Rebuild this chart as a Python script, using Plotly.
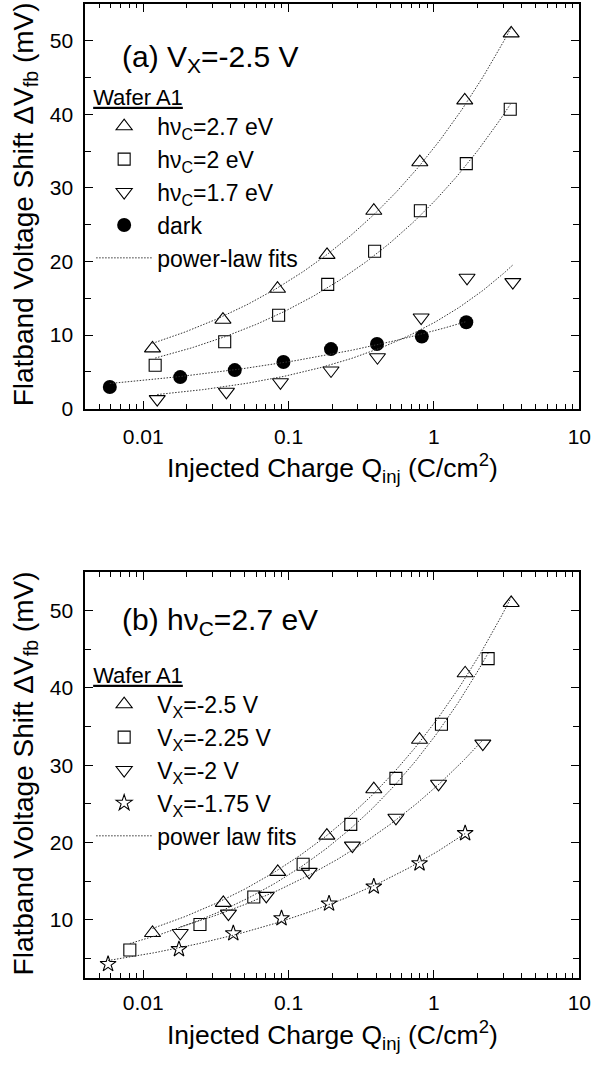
import numpy as np
import plotly.graph_objects as go

# ---------------- Panel (a): V_X = -2.5 V, wafer A1 ----------------
q_a_27 = [0.0116, 0.0354, 0.084, 0.184, 0.386, 0.80, 1.63, 3.40]
dv_a_27 = [8.2, 12.1, 16.3, 20.9, 26.9, 33.5, 41.9, 51.0]
q_a_20 = [0.0121, 0.0364, 0.0855, 0.186, 0.391, 0.807, 1.67, 3.35]
dv_a_20 = [5.9, 9.1, 12.7, 16.9, 21.4, 26.9, 33.3, 40.7]
q_a_17 = [0.0125, 0.0374, 0.088, 0.196, 0.409, 0.817, 1.69, 3.49]
dv_a_17 = [1.3, 2.3, 3.6, 5.2, 7.0, 12.4, 17.8, 17.2]
q_a_dark = [0.0059, 0.018, 0.0427, 0.0923, 0.196, 0.406, 0.826, 1.67]
dv_a_dark = [2.95, 4.3, 5.25, 6.35, 8.1, 8.8, 9.8, 11.75]

# ---------------- Panel (b): hv_C = 2.7 eV, wafer A1 ----------------
q_b_250 = [0.0116, 0.0356, 0.0843, 0.1835, 0.386, 0.796, 1.64, 3.40]
dv_b_250 = [8.3, 12.2, 16.2, 20.9, 26.9, 33.3, 41.9, 51.0]
q_b_225 = [0.0081, 0.0246, 0.0577, 0.126, 0.268, 0.548, 1.127, 2.36]
dv_b_225 = [6.1, 9.4, 12.95, 17.2, 22.35, 28.3, 35.3, 43.8]
q_b_200 = [0.018, 0.0386, 0.0703, 0.1387, 0.275, 0.548, 1.076, 2.17]
dv_b_200 = [8.3, 10.8, 13.1, 16.2, 19.6, 23.2, 27.6, 32.8]
q_b_175 = [0.00574, 0.01764, 0.0417, 0.0895, 0.19, 0.386, 0.796, 1.64]
dv_b_175 = [4.27, 6.2, 8.25, 10.2, 12.1, 14.3, 17.3, 21.2]

x_ticks = [0.01, 0.1, 1, 10]
x_ticktext = ["0.01", "0.1", "1", "10"]
x_minor = [m * 10.0 ** e for e in (-3, -2, -1, 0) for m in range(2, 10)]

FONT = "Liberation Sans, Arial, sans-serif"
W, H = 606, 1065


def power_fit(x, y):
    """Least-squares fit of y = a * x**b (log-log start, Gauss-Newton refine)."""
    x = np.asarray(x, float)
    y = np.asarray(y, float)
    b, ln_a = np.polyfit(np.log(x), np.log(y), 1)
    a = np.exp(ln_a)
    for _ in range(60):
        f = a * x ** b
        J = np.column_stack([x ** b, a * x ** b * np.log(x)])
        step, *_ = np.linalg.lstsq(J, y - f, rcond=None)
        a += step[0]
        b += step[1]
    return a, b


def fit_curves(series):
    xs_all, ys_all = [], []
    for x, y in series:
        a, b = power_fit(x, y)
        xs = np.geomspace(min(x), max(x), 150)
        xs_all += list(xs) + [None]
        ys_all += list(a * xs ** b) + [None]
    return xs_all, ys_all


fig = go.Figure()

open_line = dict(color="black", width=1.1)


def add_points(x, y, name, symbol, size, xa, ya, legend, filled=False):
    marker = dict(symbol=symbol, size=size, color="black", line=open_line)
    if filled:
        marker = dict(symbol=symbol, size=size, color="black", line=dict(width=0))
    fig.add_trace(go.Scatter(x=x, y=y, mode="markers", name=name, marker=marker,
                             xaxis=xa, yaxis=ya, legend=legend))


fit_line = dict(color="#333333", width=1, dash="1.5px,1.5px")

# panel (a)
add_points(q_a_27, dv_a_27, "h\u03bd<sub>C</sub>=2.7 eV", "triangle-up-open", 14, "x", "y", "legend")
add_points(q_a_20, dv_a_20, "h\u03bd<sub>C</sub>=2 eV", "square-open", 12, "x", "y", "legend")
add_points(q_a_17, dv_a_17, "h\u03bd<sub>C</sub>=1.7 eV", "triangle-down-open", 14, "x", "y", "legend")
add_points(q_a_dark, dv_a_dark, "dark", "circle", 14, "x", "y", "legend", filled=True)
fx, fy = fit_curves([(q_a_27, dv_a_27), (q_a_20, dv_a_20), (q_a_17, dv_a_17), (q_a_dark, dv_a_dark)])
fig.add_trace(go.Scatter(x=fx, y=fy, mode="lines", name="power-law fits", line=fit_line,
                         xaxis="x", yaxis="y", legend="legend", connectgaps=False))

# panel (b)
add_points(q_b_250, dv_b_250, "V<sub>X</sub>=-2.5 V", "triangle-up-open", 14, "x2", "y2", "legend2")
add_points(q_b_225, dv_b_225, "V<sub>X</sub>=-2.25 V", "square-open", 12, "x2", "y2", "legend2")
add_points(q_b_200, dv_b_200, "V<sub>X</sub>=-2 V", "triangle-down-open", 14, "x2", "y2", "legend2")
add_points(q_b_175, dv_b_175, "V<sub>X</sub>=-1.75 V", "star-open", 12, "x2", "y2", "legend2")
fx, fy = fit_curves([(q_b_250, dv_b_250), (q_b_225, dv_b_225), (q_b_200, dv_b_200), (q_b_175, dv_b_175)])
fig.add_trace(go.Scatter(x=fx, y=fy, mode="lines", name="power law fits", line=fit_line,
                         xaxis="x2", yaxis="y2", legend="legend2", connectgaps=False))


def py(p):
    return (H - p) / H


x_dom = [87 / W, 591 / W]
top_dom = [py(413), py(4)]
bot_dom = [py(988), py(578)]

common_x = dict(type="log", range=[np.log10(0.004), 1], domain=x_dom,
                tickvals=x_ticks, ticktext=x_ticktext, ticks="inside", ticklen=8,
                tickwidth=1.3, tickcolor="black", showline=True, linewidth=2,
                linecolor="black", mirror="ticks", showgrid=False, zeroline=False,
                tickfont=dict(size=21, family=FONT),
                minor=dict(tickvals=x_minor, ticks="inside", ticklen=4.5, tickwidth=1.2,
                           tickcolor="black", showgrid=False))
common_y = dict(ticks="inside", ticklen=8, tickwidth=1.3, tickcolor="black",
                showline=True, linewidth=2, linecolor="black", mirror="ticks",
                showgrid=False, zeroline=False, tickfont=dict(size=21, family=FONT),
                ticklabelstandoff=6)

legend_common = dict(xanchor="left", yanchor="top", bgcolor="rgba(0,0,0,0)",
                     font=dict(size=23, family=FONT), itemwidth=56, tracegroupgap=0,
                     traceorder="normal",
                     title=dict(text="<u>Wafer A1</u>", font=dict(size=22, family=FONT)))

fig.update_layout(
    width=W, height=H, margin=dict(l=0, r=0, t=0, b=0),
    paper_bgcolor="white", plot_bgcolor="white",
    font=dict(family=FONT, color="black", size=21),
    xaxis=dict(common_x, anchor="y", ticklabelstandoff=8),
    yaxis=dict(common_y, domain=top_dom, anchor="x", range=[0, 55],
               tickvals=[0, 10, 20, 30, 40, 50],
               minor=dict(tickvals=[5, 15, 25, 35, 45], ticks="inside", ticklen=6,
                          tickwidth=1.2, tickcolor="black", showgrid=False)),
    xaxis2=dict(common_x, anchor="y2", ticklabelstandoff=5),
    yaxis2=dict(common_y, domain=bot_dom, anchor="x2", range=[2.5, 55],
                tickvals=[10, 20, 30, 40, 50],
                minor=dict(tickvals=[5, 15, 25, 35, 45], ticks="inside", ticklen=6,
                           tickwidth=1.2, tickcolor="black", showgrid=False)),
    legend=dict(legend_common, x=93 / W, y=py(77)),
    legend2=dict(legend_common, x=93 / W, y=py(661)),
    showlegend=True,
)

x_title_font = dict(size=26.5, family=FONT, color="black")
y_title_font = dict(size=28, family=FONT, color="black")
panel_font = dict(size=30, family=FONT, color="black")
annotations = [
    dict(text="Injected Charge Q<sub>inj</sub> (C/cm<sup>2</sup>)", x=339 / W, y=py(473),
         xanchor="center", yanchor="middle", font=x_title_font),
    dict(text="Injected Charge Q<sub>inj</sub> (C/cm<sup>2</sup>)", x=339 / W, y=py(1046),
         xanchor="center", yanchor="middle", font=x_title_font),
    dict(text="Flatband Voltage Shift \u0394V<sub>fb</sub> (mV)", x=26 / W, y=py(206),
         xanchor="center", yanchor="middle", textangle=-90, font=y_title_font),
    dict(text="Flatband Voltage Shift \u0394V<sub>fb</sub> (mV)", x=26 / W, y=py(781),
         xanchor="center", yanchor="middle", textangle=-90, font=y_title_font),
    dict(text="(a) V<sub>X</sub>=-2.5 V", x=122 / W, y=py(59), xanchor="left",
         yanchor="middle", font=panel_font),
    dict(text="(b) h\u03bd<sub>C</sub>=2.7 eV", x=122 / W, y=py(628), xanchor="left",
         yanchor="middle", font=panel_font),
]
for a in annotations:
    a.update(xref="paper", yref="paper", showarrow=False)
fig.update_layout(annotations=annotations)

fig.write_html("out.html")
